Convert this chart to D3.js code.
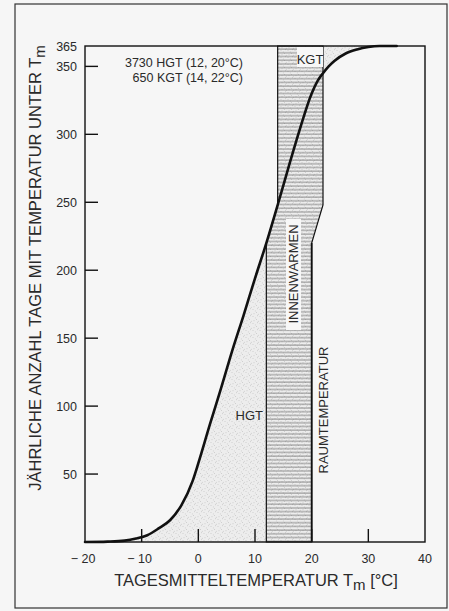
<!DOCTYPE html>
<html>
<head>
<meta charset="utf-8">
<script src="https://cdn.jsdelivr.net/npm/d3@7"></script>
<style>
  html, body { margin: 0; padding: 0; background: #f6f6f6; }
  svg { display: block; }
  text { font-family: "Liberation Sans", Arial, sans-serif; fill: #2a2a2a; }
</style>
</head>
<body>
<svg id="chart" width="449" height="611"></svg>
<script>
// ---- data ----
const temps = [-20, -16, -13, -11, -9, -7, -5, -3, -1, 0, 2, 4, 6, 8, 10, 12, 14, 16, 18, 20, 21, 22, 23, 24, 26, 28, 30, 32, 35];
const days  = [0, 0.3, 1, 2.5, 5, 10, 16, 27, 45, 58, 86, 113, 141, 167, 194, 220, 248, 277, 305, 330, 339, 345, 350, 354, 359.5, 362.5, 364.3, 365, 365];
const xTicks = [-20, -10, 0, 10, 20, 30, 40];
const xTickLabels = ["− 20", "− 10", "0", "10", "20", "30", "40"];
const yTicks = [50, 100, 150, 200, 250, 300, 350];
const yTopLabel = 365;
const hgtLimits = [12, 20];   // heating limit, room temperature
const kgtLimits = [14, 22];   // cooling limit, room temperature
const summaryLines = ["3730 HGT (12, 20°C)", "650 KGT (14, 22°C)"];

// ---- layout ----
const svg = d3.select("#chart");
const x = d3.scaleLinear().domain([-20, 40]).range([85, 425]);
const y = d3.scaleLinear().domain([0, 365]).range([542, 46]);
const pts = temps.map((t, i) => [t, days[i]]);

function dayAt(t) {
  for (let i = 1; i < temps.length; i++) {
    if (t <= temps[i]) {
      const f = (t - temps[i - 1]) / (temps[i] - temps[i - 1]);
      return days[i - 1] + f * (days[i] - days[i - 1]);
    }
  }
  return 365;
}
const d12 = dayAt(hgtLimits[0]);
const d14 = dayAt(kgtLimits[0]);

const defs = svg.append("defs");
const stip = defs.append("pattern").attr("id", "stip").attr("patternUnits", "userSpaceOnUse")
  .attr("width", 7).attr("height", 7);
stip.append("rect").attr("width", 7).attr("height", 7).attr("fill", "#ededed");
[[1, 1.5], [4.5, 4.5], [5.5, 0.8], [2, 5.8], [3.3, 2.9], [6.2, 6.3]].forEach(p =>
  stip.append("circle").attr("cx", p[0]).attr("cy", p[1]).attr("r", 0.45).attr("fill", "#b0b0b0"));
const hatch = defs.append("pattern").attr("id", "hatch").attr("patternUnits", "userSpaceOnUse")
  .attr("width", 6).attr("height", 3.7);
hatch.append("line").attr("x1", 0).attr("x2", 6).attr("y1", 1).attr("y2", 1)
  .attr("stroke", "#444").attr("stroke-width", 0.6);

// outer frame
svg.append("rect").attr("x", 15).attr("y", 4).attr("width", 432).attr("height", 604)
  .attr("fill", "#f6f6f6").attr("stroke", "#333").attr("stroke-width", 1.2);

const lineGen = d3.line().x(d => x(d[0])).y(d => y(d[1])).curve(d3.curveMonotoneX);

// HGT stipple area: between curve and room temperature line
const ptsA = pts.filter(p => p[0] < hgtLimits[0]).concat([[hgtLimits[0], d12]]);
svg.append("path")
  .attr("d", lineGen(ptsA) + `L${x(hgtLimits[1])},${y(d12)}L${x(hgtLimits[1])},${y(0)}Z`)
  .attr("fill", "url(#stip)");

// KGT stipple area: right of cooling limit, left of curve
const ptsB = [[kgtLimits[0], d14]].concat(pts.filter(p => p[0] > kgtLimits[0]));
svg.append("path")
  .attr("d", lineGen(ptsB) + `L${x(kgtLimits[0])},${y(365)}Z`)
  .attr("fill", "url(#stip)");

// internal-gains band (hatched)
const band = [[hgtLimits[0], 0], [hgtLimits[1], 0], [hgtLimits[1], d12], [kgtLimits[1], d14],
  [kgtLimits[1], 365], [kgtLimits[0], 365], [kgtLimits[0], d14]]
  .concat(pts.filter(p => p[0] > hgtLimits[0] && p[0] < kgtLimits[0]).reverse())
  .concat([[hgtLimits[0], d12]]);
const bandPath = "M" + band.map(p => `${x(p[0])},${y(p[1])}`).join("L") + "Z";
svg.append("path").attr("d", bandPath).attr("fill", "url(#stip)");
svg.append("path").attr("d", bandPath).attr("fill", "url(#hatch)");

// band edges
svg.append("path").attr("d", bandPath).attr("fill", "none").attr("stroke", "#111").attr("stroke-width", 1.2);
svg.append("line").attr("x1", x(hgtLimits[1])).attr("x2", x(hgtLimits[1])).attr("y1", y(0)).attr("y2", y(d12))
  .attr("stroke", "#111").attr("stroke-width", 1.8);

// label boxes clearing the hatch
svg.append("rect").attr("x", 297).attr("y", 47).attr("width", 26).attr("height", 20).attr("fill", "#f7f7f7");
svg.append("rect").attr("x", 286).attr("y", 219).attr("width", 15).attr("height", 111).attr("fill", "#f7f7f7");

// plot frame
svg.append("rect").attr("x", x(-20)).attr("y", y(365)).attr("width", x(40) - x(-20)).attr("height", y(0) - y(365))
  .attr("fill", "none").attr("stroke", "#111").attr("stroke-width", 1.4);

// curve
svg.append("path").attr("d", lineGen(pts)).attr("fill", "none").attr("stroke", "#111")
  .attr("stroke-width", 2.6).attr("stroke-linecap", "round");

// y axis ticks (inward)
const gy = svg.append("g");
yTicks.forEach(v => {
  gy.append("line").attr("x1", x(-20)).attr("x2", x(-20) + 13).attr("y1", y(v)).attr("y2", y(v))
    .attr("stroke", "#111").attr("stroke-width", 1.4);
  gy.append("text").attr("x", 77).attr("y", y(v) + 4.5).attr("text-anchor", "end")
    .attr("font-size", 12.5).text(v);
});
gy.append("text").attr("x", 77).attr("y", y(yTopLabel) + 4.5).attr("text-anchor", "end")
  .attr("font-size", 12.5).text(yTopLabel);

// x axis ticks (inward)
const gx = svg.append("g");
xTicks.forEach((v, i) => {
  if (v > -20 && v < 40) gx.append("line").attr("x1", x(v)).attr("x2", x(v)).attr("y1", y(0)).attr("y2", y(0) - 13)
    .attr("stroke", "#111").attr("stroke-width", 1.4);
  gx.append("text").attr("x", x(v) + (v < 0 ? -2 : 0)).attr("y", 563).attr("text-anchor", "middle")
    .attr("font-size", 12.5).text(xTickLabels[i]);
});

// axis titles
const xt = svg.append("text").attr("x", 256).attr("y", 586).attr("text-anchor", "middle").attr("font-size", 16.5);
xt.append("tspan").text("TAGESMITTELTEMPERATUR T");
xt.append("tspan").attr("font-size", 15).attr("dy", 4).text("m");
xt.append("tspan").attr("dy", -4).text(" [°C]");

const yt = svg.append("text").attr("transform", "translate(41,268) rotate(-90)")
  .attr("text-anchor", "middle").attr("font-size", 16.5);
yt.append("tspan").text("JÄHRLICHE ANZAHL TAGE MIT TEMPERATUR UNTER T");
yt.append("tspan").attr("font-size", 15).attr("dy", 4).text("m");

// annotation
svg.append("text").attr("x", 243).attr("y", 67).attr("text-anchor", "end").attr("font-size", 12.5).text(summaryLines[0]);
svg.append("text").attr("x", 243).attr("y", 82).attr("text-anchor", "end").attr("font-size", 12.5).text(summaryLines[1]);

svg.append("text").attr("x", 310).attr("y", 64).attr("text-anchor", "middle").attr("font-size", 13).text("KGT");
svg.append("text").attr("x", 263).attr("y", 420).attr("text-anchor", "end").attr("font-size", 13).text("HGT");
svg.append("text").attr("transform", "translate(298,274) rotate(-90)").attr("text-anchor", "middle")
  .attr("font-size", 13).text("INNENWARMEN");
svg.append("text").attr("transform", "translate(328,410) rotate(-90)").attr("text-anchor", "middle")
  .attr("font-size", 13).text("RAUMTEMPERATUR");
</script>
</body>
</html>
